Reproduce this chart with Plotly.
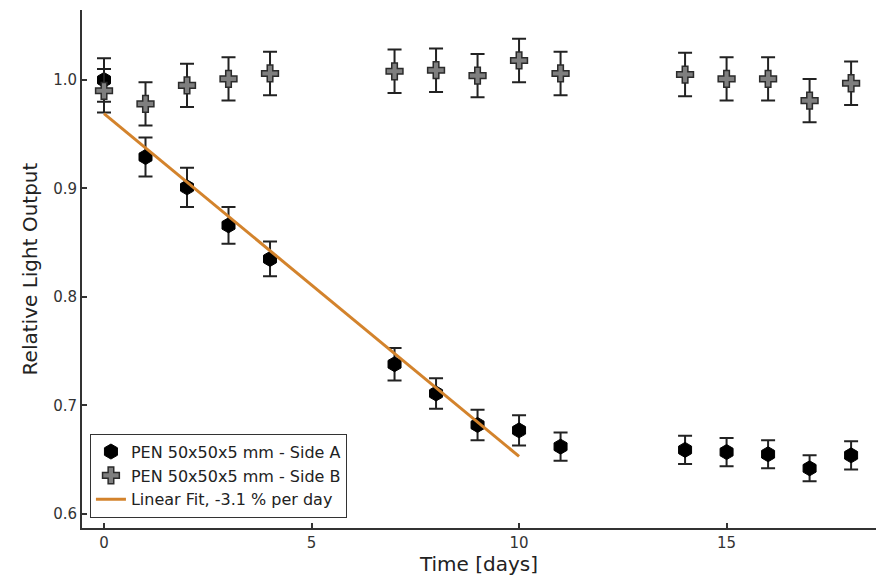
import plotly.graph_objects as go

# Measurement days
days = [0, 1, 2, 3, 4, 7, 8, 9, 10, 11, 14, 15, 16, 17, 18]

# Relative light output, side A (irradiated face) and its uncertainty
side_a = [1.000, 0.929, 0.901, 0.866, 0.835, 0.738, 0.711, 0.682, 0.677, 0.662,
          0.659, 0.657, 0.655, 0.642, 0.654]
side_a_err = [0.020, 0.018, 0.018, 0.017, 0.016, 0.015, 0.014, 0.014, 0.014, 0.013,
              0.013, 0.013, 0.013, 0.012, 0.013]

# Relative light output, side B and its uncertainty
side_b = [0.990, 0.978, 0.995, 1.001, 1.006, 1.008, 1.009, 1.004, 1.018, 1.006,
          1.005, 1.001, 1.001, 0.981, 0.997]
side_b_err = [0.020, 0.020, 0.020, 0.020, 0.020, 0.020, 0.020, 0.020, 0.020, 0.020,
              0.020, 0.020, 0.020, 0.020, 0.020]

# Linear fit to side A over the first ten days
fit_days = [0, 10]
fit_intercept = 0.969
fit_slope = -0.0316
fit_values = [fit_intercept + fit_slope * d for d in fit_days]

FONT = "DejaVu Sans"
ERR = dict(type="data", visible=True, thickness=2, width=7, color="#222222")

fig = go.Figure()

fig.add_trace(go.Scatter(
    x=days, y=side_a, mode="markers", name="PEN 50x50x5 mm - Side A",
    error_y=dict(array=side_a_err, **ERR),
    marker=dict(symbol="hexagon", size=15, color="#000000",
                line=dict(color="#000000", width=1)),
))

fig.add_trace(go.Scatter(
    x=days, y=side_b, mode="markers", name="PEN 50x50x5 mm - Side B",
    error_y=dict(array=side_b_err, **ERR),
    marker=dict(symbol="cross", size=14, color="#7f7f7f",
                line=dict(color="#2b2b2b", width=1.5)),
))

fig.add_trace(go.Scatter(
    x=fit_days, y=fit_values, mode="lines", name="Linear Fit, -3.1 % per day",
    line=dict(color="#D3832C", width=3),
))

axis_common = dict(
    showgrid=False, zeroline=False, showline=True, linecolor="#333333", linewidth=2,
    ticks="inside", ticklen=5, tickwidth=1.5, tickcolor="#333333",
    tickfont=dict(family=FONT, size=15, color="#333333"),
    mirror=False,
)

fig.update_layout(
    width=881, height=580,
    margin=dict(l=82, r=5, t=10, b=52),
    paper_bgcolor="white", plot_bgcolor="white",
    font=dict(family=FONT, color="#222222"),
    xaxis=dict(range=[-0.53, 18.6], tickvals=[0, 5, 10, 15],
               title=dict(text="Time [days]", font=dict(family=FONT, size=20, color="#222222"),
                          standoff=6),
               **axis_common),
    yaxis=dict(range=[0.587, 1.0645], tickvals=[0.6, 0.7, 0.8, 0.9, 1.0],
               tickformat=".1f",
               title=dict(text="Relative Light Output",
                          font=dict(family=FONT, size=20, color="#222222"), standoff=10),
               **axis_common),
    legend=dict(x=0.01, y=0.02, xanchor="left", yanchor="bottom",
                bgcolor="white", bordercolor="#333333", borderwidth=1,
                font=dict(family=FONT, size=16, color="#222222"),
                tracegroupgap=0, itemwidth=30),
    showlegend=True,
)

fig.write_html("out.html")
